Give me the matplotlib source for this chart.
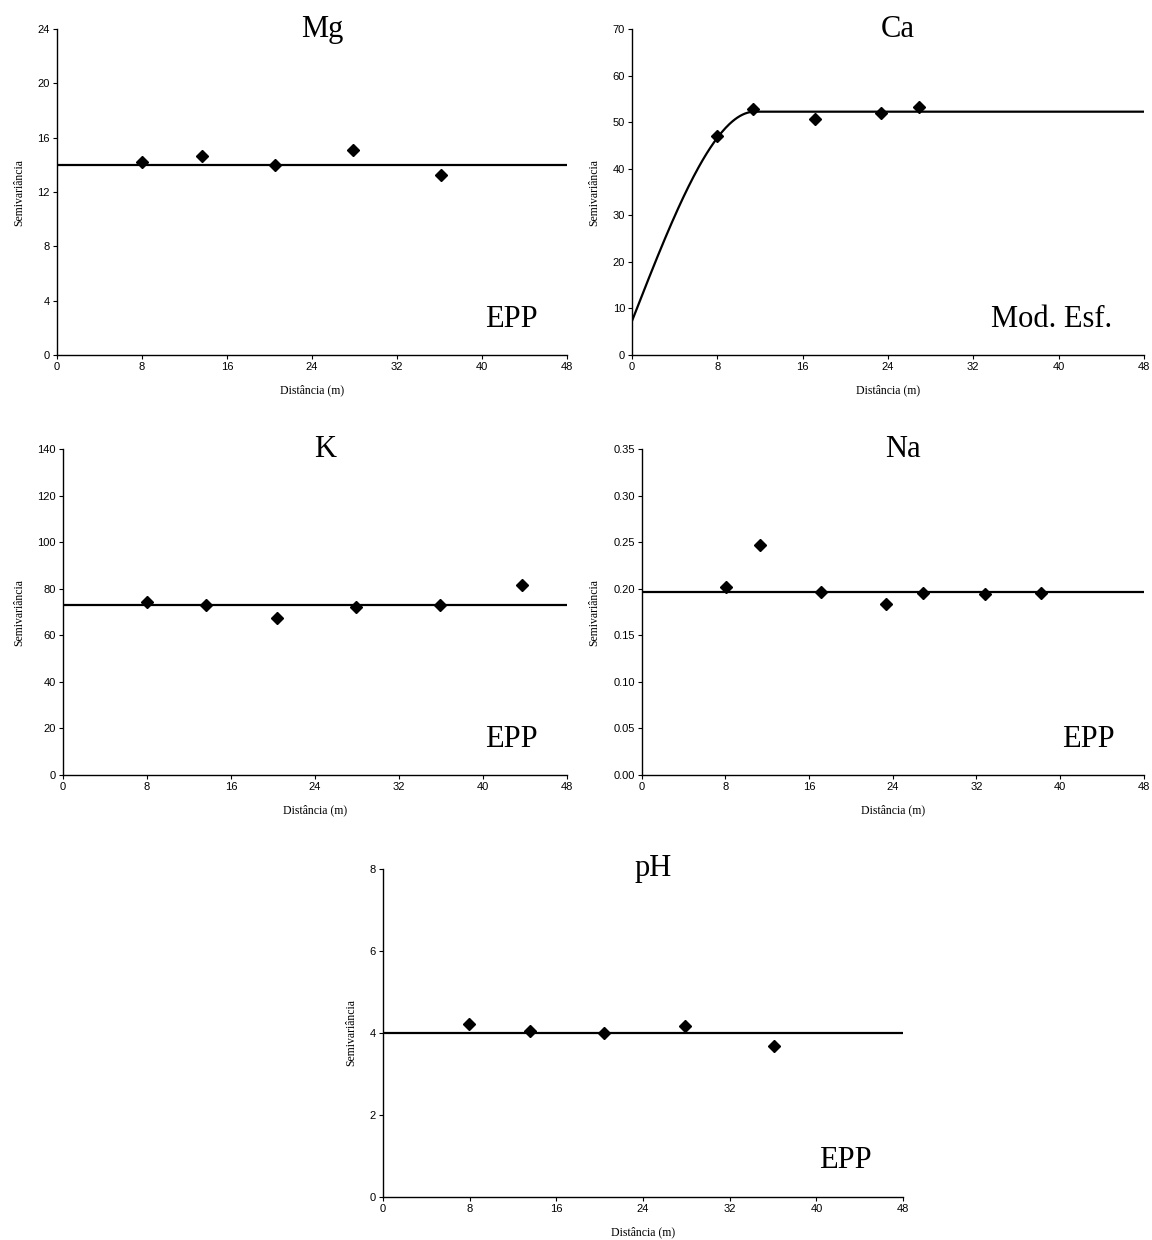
import numpy as np
import matplotlib
matplotlib.use("Agg")
import matplotlib.pyplot as plt
from matplotlib.ticker import FormatStrFormatter

# distancias e semivariancias
mg_dist = [8.0, 13.6, 20.5, 27.85, 36.1]
mg_semi = [14.2, 14.65, 14.0, 15.1, 13.25]
mg_patamar = 14.0

ca_dist = [7.95, 11.3, 17.2, 23.35, 26.9]
ca_semi = [46.96, 52.8, 50.7, 51.9, 53.25]
ca_pepita = 7.3
ca_patamar = 52.25
ca_alcance = 11.5

k_dist = [7.96, 13.6, 20.35, 27.9, 35.95, 43.7]
k_semi = [74.1, 73.1, 67.4, 72.1, 73.1, 81.6]
k_patamar = 72.9

na_dist = [8.05, 11.34, 17.1, 23.4, 26.9, 32.8, 38.2]
na_semi = [0.2018, 0.247, 0.1968, 0.1839, 0.1957, 0.1946, 0.1957]
na_patamar = 0.1964

ph_dist = [7.95, 13.56, 20.4, 27.9, 36.06]
ph_semi = [4.23, 4.04, 3.99, 4.18, 3.68]
ph_patamar = 4.0


def esferico(h, c0, sill, a):
    h = np.asarray(h, dtype=float)
    r = np.where(h < a, 1.5 * h / a - 0.5 * (h / a) ** 3, 1.0)
    return c0 + (sill - c0) * r


def painel(fig, rect, dist, semi, ymax, yticks, titulo, modelo, modelo_x, fmt=None):
    ax = fig.add_axes(rect)
    ax.plot(dist, semi, ls="none", marker="D", ms=6, color="black", zorder=3)
    ax.set_xlim(0, 48)
    ax.set_ylim(0, ymax)
    ax.set_xticks([0, 8, 16, 24, 32, 40, 48])
    ax.set_yticks(yticks)
    if fmt:
        ax.yaxis.set_major_formatter(FormatStrFormatter(fmt))
    for s in ["top", "right"]:
        ax.spines[s].set_visible(False)
    for s in ["left", "bottom"]:
        ax.spines[s].set_linewidth(1.0)
    ax.tick_params(direction="out", length=3, width=0.8, labelsize=8, pad=2)
    for lab in ax.get_xticklabels() + ax.get_yticklabels():
        lab.set_family("Liberation Sans")
    ax.set_xlabel("Distância (m)", family="Liberation Serif", fontsize=8.5, labelpad=9)
    ax.set_ylabel("Semivariância", family="Liberation Serif", fontsize=8.5, labelpad=9)
    ax.text(0.52, 1.0, titulo, transform=ax.transAxes, ha="center", va="center",
            family="Liberation Serif", fontsize=22)
    ax.text(modelo_x, 0.11, modelo, transform=ax.transAxes, ha="center", va="center",
            family="Liberation Serif", fontsize=22)
    return ax


fig = plt.figure(figsize=(11.52, 12.40), dpi=100)

ax = painel(fig, [0.0495, 0.7137, 0.4427, 0.2629], mg_dist, mg_semi, 24,
            [0, 4, 8, 12, 16, 20, 24], "Mg", "EPP", 0.89)
ax.plot([0, 48], [mg_patamar, mg_patamar], color="black", lw=1.6)

ax = painel(fig, [0.5486, 0.7137, 0.4444, 0.2629], ca_dist, ca_semi, 70,
            [0, 10, 20, 30, 40, 50, 60, 70], "Ca", "Mod. Esf.", 0.82)
h = np.linspace(0, 48, 400)
ax.plot(h, esferico(h, ca_pepita, ca_patamar, ca_alcance), color="black", lw=1.6)

ax = painel(fig, [0.0547, 0.375, 0.4375, 0.2629], k_dist, k_semi, 140,
            [0, 20, 40, 60, 80, 100, 120, 140], "K", "EPP", 0.89)
ax.plot([0, 48], [k_patamar, k_patamar], color="black", lw=1.6)

ax = painel(fig, [0.557, 0.375, 0.4358, 0.2629], na_dist, na_semi, 0.35,
            [0, 0.05, 0.10, 0.15, 0.20, 0.25, 0.30, 0.35], "Na", "EPP", 0.89, fmt="%.2f")
ax.plot([0, 48], [na_patamar, na_patamar], color="black", lw=1.6)

ax = painel(fig, [0.3325, 0.0347, 0.4514, 0.2645], ph_dist, ph_semi, 8,
            [0, 2, 4, 6, 8], "pH", "EPP", 0.89)
ax.plot([0, 48], [ph_patamar, ph_patamar], color="black", lw=1.6)

fig.savefig("out.png", dpi=100)
